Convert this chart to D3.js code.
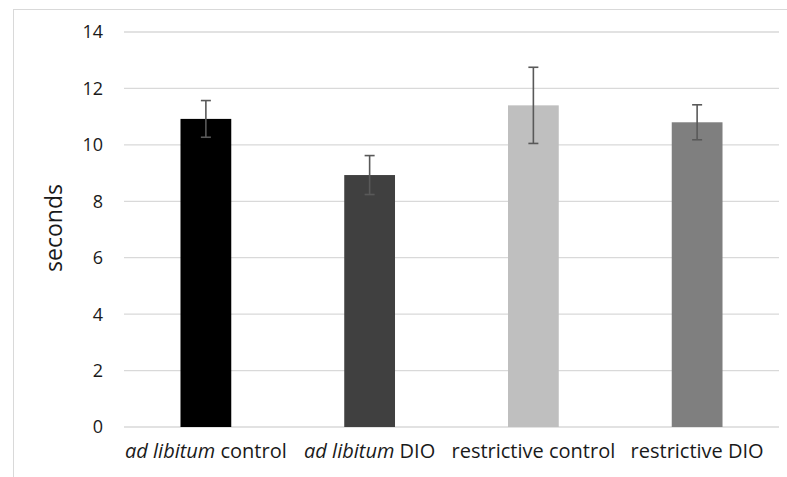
<!DOCTYPE html>
<html>
<head>
<meta charset="utf-8">
<script src="https://cdn.jsdelivr.net/npm/d3@7"></script>
<style>
  body { margin: 0; background: #fff; }
  text { font-family: "Open Sans", sans-serif; fill: #1a1a1a; }
</style>
</head>
<body>
<script>
// data
var groups = ["control", "DIO", "control", "DIO"];
var groupPrefix = ["ad libitum", "ad libitum", "restrictive", "restrictive"];
var prefixItalic = [true, true, false, false];
var means = [10.92, 8.93, 11.40, 10.80];
var errors = [0.65, 0.69, 1.35, 0.62];
var barColors = ["#000000", "#404040", "#bfbfbf", "#7f7f7f"];
var yTicks = [0, 2, 4, 6, 8, 10, 12, 14];

var svgWidth = 787;
var svgHeight = 477;
var plotLeft = 124, plotRight = 779, plotTop = 32, plotBottom = 427;

var svg = d3.select('body').append('svg')
	.attr("width", svgWidth)
	.attr("height", svgHeight);

// chart frame (cut off at right and bottom)
svg.append("rect")
	.attr("x", 13.5).attr("y", 9.5)
	.attr("width", 800).attr("height", 500)
	.attr("fill", "none")
	.attr("stroke", "#d9d9d9")
	.attr("stroke-width", 1);

var x = d3.scaleBand()
	.domain(d3.range(means.length))
	.range([plotLeft, plotRight])
	.paddingInner(0.69)
	.paddingOuter(0.345);

var y = d3.scaleLinear()
	.domain([0, 14])
	.range([plotBottom, plotTop]);

// gridlines
svg.selectAll('line.grid')
	.data(yTicks)
	.enter()
	.append('line')
	.attr("class", "grid")
	.attr("x1", plotLeft).attr("x2", plotRight)
	.attr("y1", d => y(d)).attr("y2", d => y(d))
	.attr("stroke", "#d9d9d9")
	.attr("stroke-width", 1.3);

// y tick labels
svg.selectAll('text.ytick')
	.data(yTicks)
	.enter()
	.append('text')
	.attr("class", "ytick")
	.attr("x", 103)
	.attr("y", d => y(d))
	.attr("dy", "0.36em")
	.attr("text-anchor", "end")
	.style("font-size", "18px")
	.text(d => d);

// bars
svg.selectAll('rect.bar')
	.data(means)
	.enter()
	.append('rect')
	.attr("class", "bar")
	.attr("x", (d, i) => x(i))
	.attr("width", x.bandwidth())
	.attr("y", d => y(d))
	.attr("height", d => y(0) - y(d))
	.style("fill", (d, i) => barColors[i]);

// error bars
var err = svg.selectAll('g.err')
	.data(means)
	.enter()
	.append('g')
	.attr("class", "err")
	.attr("stroke", "#595959")
	.attr("stroke-width", 1.6);

err.append('line')
	.attr("x1", (d, i) => x(i) + x.bandwidth() / 2)
	.attr("x2", (d, i) => x(i) + x.bandwidth() / 2)
	.attr("y1", (d, i) => y(d + errors[i]))
	.attr("y2", (d, i) => y(d - errors[i]));

[1, -1].forEach(function(sign) {
	err.append('line')
		.attr("x1", (d, i) => x(i) + x.bandwidth() / 2 - 5)
		.attr("x2", (d, i) => x(i) + x.bandwidth() / 2 + 5)
		.attr("y1", (d, i) => y(d + sign * errors[i]))
		.attr("y2", (d, i) => y(d + sign * errors[i]));
});

// x labels
var xl = svg.selectAll('text.xlab')
	.data(groups)
	.enter()
	.append('text')
	.attr("class", "xlab")
	.attr("x", (d, i) => x(i) + x.bandwidth() / 2)
	.attr("y", 458)
	.attr("text-anchor", "middle")
	.style("font-size", "20px");

xl.append('tspan')
	.style("font-style", (d, i) => prefixItalic[i] ? "italic" : "normal")
	.text((d, i) => groupPrefix[i]);
xl.append('tspan')
	.text(d => " " + d);

// y axis title
svg.append('text')
	.attr("transform", "translate(62,228) rotate(-90)")
	.attr("text-anchor", "middle")
	.style("font-size", "23px")
	.text("seconds");
</script>
</body>
</html>
